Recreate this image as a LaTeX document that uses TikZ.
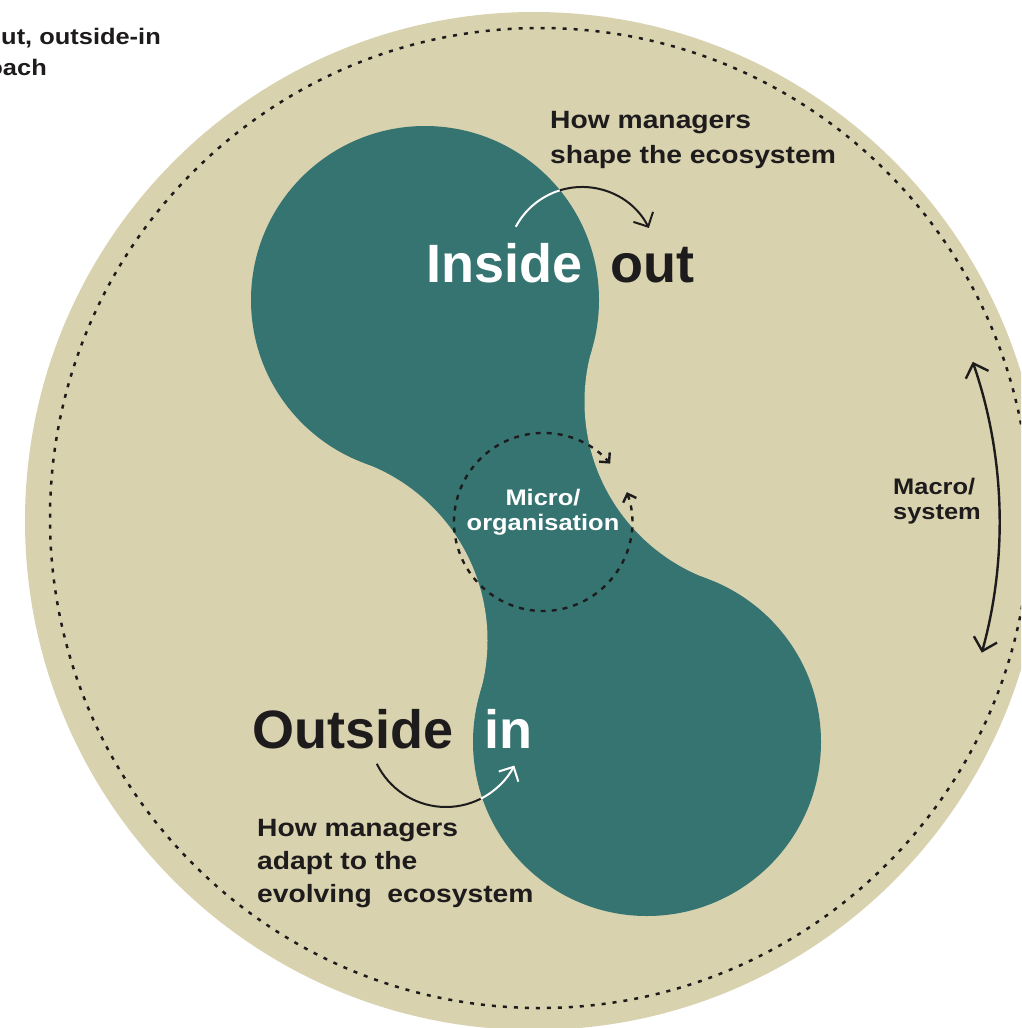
\documentclass[tikz,border=0pt]{standalone}
\usepackage{fontspec}
\setmainfont{Liberation Sans}
\newfontfamily\labfont{Liberation Sans}[FakeStretch=1.13]
\usetikzlibrary{arrows.meta}
\definecolor{beigec}{HTML}{D8D2AE}
\definecolor{tealc}{HTML}{367472}
\definecolor{ink}{HTML}{1E1B1C}
\begin{document}
\begin{tikzpicture}[x=1pt,y=1pt,yscale=-1,
  lab/.style={font=\labfont\bfseries\fontsize{25}{30}\selectfont, text=ink, anchor=base west, inner sep=0pt},
  head/.style={font=\bfseries\fontsize{54}{60}\selectfont, anchor=base west, inner sep=0pt},
  smalltxt/.style={font=\labfont\bfseries\fontsize{22.5}{25}\selectfont, inner sep=0pt},
  outerdots/.style={line width=2.5pt, dash pattern=on 4pt off 7pt},
  microdots/.style={line width=2.4pt, dash pattern=on 5pt off 6pt},
  curvearrow/.style={line width=2pt},
  barbtip/.tip={Straight Barb[length=11pt,width=22pt]},
  smallbarb/.tip={Straight Barb[length=7pt,width=14pt]},
  bigbarb/.tip={Straight Barb[length=12pt,width=24pt]}
]
\useasboundingbox (0,0) rectangle (1021,1028);
\clip (0,0) rectangle (1021,1028);

% background disc and dotted ring
\coordinate (big) at (534,521);
\coordinate (ring) at (540,518);
\fill[beigec] (big) circle[radius=509pt];
\draw[ink, outerdots] (ring) circle[radius=490pt];

% teal peanut shape: neck quad, carved by two beige discs, then the two lobes
\coordinate (U) at (425,300);
\coordinate (D) at (647,742);
\coordinate (L) at (298.5,640.3);
\coordinate (R) at (773.5,401.7);
\fill[tealc] (U) -- (L) -- (D) -- (R) -- cycle;
\fill[beigec] (L) circle[radius=189pt] (R) circle[radius=189pt];
\fill[tealc] (U) circle[radius=174pt] (D) circle[radius=174pt];

% micro dotted circle with arrows
\coordinate (Mc) at (543,522);
\draw[ink, microdots, smallbarb-smallbarb] ([shift={(-19.6:89)}]Mc) arc[start angle=-19.6, end angle=319, radius=89pt];

% macro arrow
\coordinate (Mac) at (507.5,522);
\draw[ink, line width=2.4pt, bigbarb-bigbarb] ([shift={(-19:492)}]Mac) arc[start angle=-19, end angle=15.4, radius=492pt];

% inside-out arrow
\coordinate (TA) at (582,262);
\draw[white, curvearrow] ([shift={(-152:75)}]TA) arc[start angle=-152, end angle=-107.2, radius=75pt];
\draw[ink, curvearrow, -barbtip] ([shift={(-107.2:75)}]TA) arc[start angle=-107.2, end angle=-27, radius=75pt];

% outside-in arrow
\coordinate (BA) at (446,730);
\draw[ink, curvearrow] ([shift={(154:77)}]BA) arc[start angle=154, end angle=63.1, radius=77pt];
\draw[white, curvearrow, -barbtip] ([shift={(63.1:77)}]BA) arc[start angle=63.1, end angle=27.5, radius=77pt];

% texts
\node[lab] (t1) at (550,128) {How managers};
\node[lab] (t2) at (550,163) {shape the ecosystem};
\node[head, text=white] (ins) at (426,282) {Inside};
\node[head, text=ink] (outw) at (610,282) {out};
\node[head, text=ink] (outs) at (252,748) {Outside};
\node[head, text=white] (inw) at (484,748) {in};
\node[lab] (b1) at (257,836) {How managers};
\node[lab] (b2) at (257,869) {adapt to the};
\node[lab] (b3) at (257,902) {evolving\ \ ecosystem};
\node[smalltxt, text=white, anchor=base] (mi1) at (543,505) {Micro/};
\node[smalltxt, text=white, anchor=base] (mi2) at (543,530) {organisation};
\node[smalltxt, text=ink, anchor=base west] (ma1) at (893,494) {Macro/};
\node[smalltxt, text=ink, anchor=base west] (ma2) at (893,519) {system};
\node[smalltxt, text=ink, anchor=base east] (tl1) at (161,44) {Inside-out, outside-in};
\node[smalltxt, text=ink, anchor=base east] (tl2) at (47,75) {approach};
\end{tikzpicture}
\end{document}
